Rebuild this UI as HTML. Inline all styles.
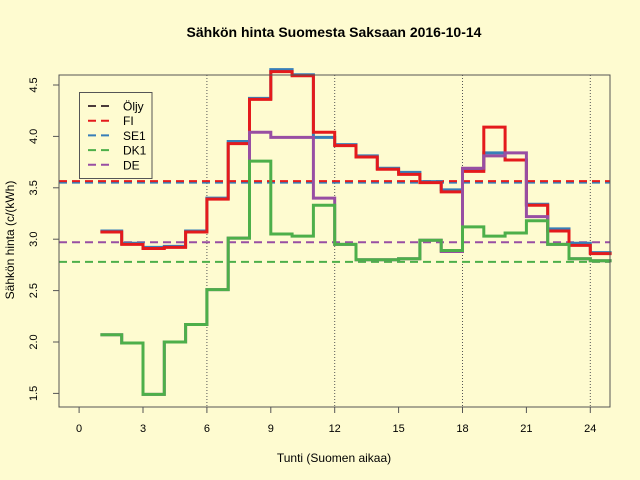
<!DOCTYPE html>
<html><head><meta charset="utf-8"><style>
body{margin:0;background:#fefbd0;}
svg{display:block;font-family:"Liberation Sans",sans-serif;}
</style></head><body>
<svg id="chart" width="640" height="480" viewBox="0 0 640 480" xmlns="http://www.w3.org/2000/svg">
<rect x="0" y="0" width="640" height="480" fill="#fefbd0"/>
<text x="334" y="37" text-anchor="middle" font-size="14" font-weight="bold" fill="#000">Sähkön hinta Suomesta Saksaan 2016-10-14</text>
<text x="334" y="462" text-anchor="middle" font-size="12" fill="#000">Tunti (Suomen aikaa)</text>
<text x="0" y="0" transform="translate(14,240) rotate(-90)" text-anchor="middle" font-size="12" fill="#000">Sähkön hinta (c/(kWh)</text>
<g id="grid"></g>
<g id="hlines"></g>
<g id="series"></g>
<g id="axes"></g>
<g id="legend"></g>
</svg>
<script>
const hours = [1,2,3,4,5,6,7,8,9,10,11,12,13,14,15,16,17,18,19,20,21,22,23,24];
const fi  = [3.07,2.95,2.91,2.92,3.07,3.39,3.93,4.36,4.63,4.59,4.04,3.91,3.80,3.68,3.63,3.55,3.46,3.66,4.09,3.77,3.33,3.08,2.94,2.86];
const se1 = [3.08,2.96,2.92,2.93,3.08,3.40,3.95,4.37,4.65,4.60,3.99,3.92,3.81,3.69,3.65,3.56,3.48,3.68,3.84,3.77,3.34,3.10,2.96,2.87];
const dk1 = [2.07,1.99,1.49,2.00,2.17,2.51,3.01,3.76,3.05,3.03,3.33,2.95,2.80,2.80,2.81,2.99,2.89,3.12,3.03,3.06,3.18,2.95,2.81,2.79];
const de  = [2.07,1.99,1.49,2.00,2.17,2.51,3.01,4.04,3.99,3.99,3.40,2.95,2.80,2.80,2.81,2.99,2.88,3.69,3.81,3.84,3.22,2.95,2.81,2.79];
const avgNames = ["Öljy","SE1","FI","DK1","DE"];
const avgValues = [3.56,3.55,3.565,2.78,2.97];
const legendNames = ["Öljy","FI","SE1","DK1","DE"];
const xTicks = [0,3,6,9,12,15,18,21,24];
const yTicks = [1.5,2.0,2.5,3.0,3.5,4.0,4.5];
const vLines = [6,12,18,24];

const NS="http://www.w3.org/2000/svg";
const L=59,R=610,T=75,B=407;
function xs(h){return 79.1+(h-0)*21.3;}
function ys(v){return 85+(4.5-v)*102.8;}
function mk(tag,attrs,parent){const e=document.createElementNS(NS,tag);for(const k in attrs)e.setAttribute(k,attrs[k]);parent.appendChild(e);return e;}
const grid=document.getElementById('grid'),hl=document.getElementById('hlines'),ser=document.getElementById('series'),ax=document.getElementById('axes'),lg=document.getElementById('legend');

vLines.forEach(h=>{
  const e=mk('line',{x1:xs(h),x2:xs(h),y1:T,y2:B,stroke:'#555','stroke-width':1,'stroke-dasharray':'1,2'},grid);
  
  
});

const colors={"Öljy":"#4a3a3a","FI":"#e41a1c","SE1":"#377eb8","DK1":"#4daf4a","DE":"#984ea3"};
avgNames.forEach((n,i)=>{
  const e=mk('line',{x1:L,x2:R,y1:ys(avgValues[i]),y2:ys(avgValues[i]),stroke:colors[n],'stroke-width':2,'stroke-dasharray':'8,5'},hl);
  
  
});

function stepPath(vals){
  let d='';
  vals.forEach((v,i)=>{
    const x0=xs(hours[i]),x1=xs(hours[i]+1),y=ys(v);
    d+=(i===0?'M':'L')+x0+','+y+' L'+x1+','+y+' ';
  });
  return d;
}
[["SE1",se1],["FI",fi],["DE",de],["DK1",dk1]].forEach(([n,vals])=>{
  const e=mk('path',{d:stepPath(vals),fill:'none',stroke:colors[n],'stroke-width':3,'stroke-linejoin':'miter'},ser);
  
  
});

const box=mk('rect',{x:L,y:T,width:R-L,height:B-T,fill:'none',stroke:'#555','stroke-width':1},ax);


xTicks.forEach(t=>{
  const l=mk('line',{x1:xs(t),x2:xs(t),y1:B,y2:B+6,stroke:'#555'},ax);
  
  
  const tx=mk('text',{x:xs(t),y:B+25,'text-anchor':'middle','font-size':11,fill:'#000'},ax);
  tx.textContent=t;
  
  
});
yTicks.forEach(t=>{
  const l=mk('line',{x1:L-6,x2:L,y1:ys(t),y2:ys(t),stroke:'#555'},ax);
  
  
  const tx=mk('text',{x:0,y:0,transform:'translate('+(L-22)+','+ys(t)+') rotate(-90)','text-anchor':'middle','font-size':11,fill:'#000'},ax);
  tx.textContent=t.toFixed(1);
  
  
});

const lb=mk('rect',{x:79.5,y:92.5,width:72.5,height:86,fill:'#fefbd0',stroke:'#555'},lg);


legendNames.forEach((n,i)=>{
  const y=106+i*14.7;
  const l=mk('line',{x1:88,x2:110,y1:y,y2:y,stroke:colors[n],'stroke-width':2,'stroke-dasharray':'8,5'},lg);
  
  
  const tx=mk('text',{x:123,y:y+4.5,'font-size':12,fill:'#000'},lg);
  tx.textContent=n;
  
  
});
</script>
</body></html>
